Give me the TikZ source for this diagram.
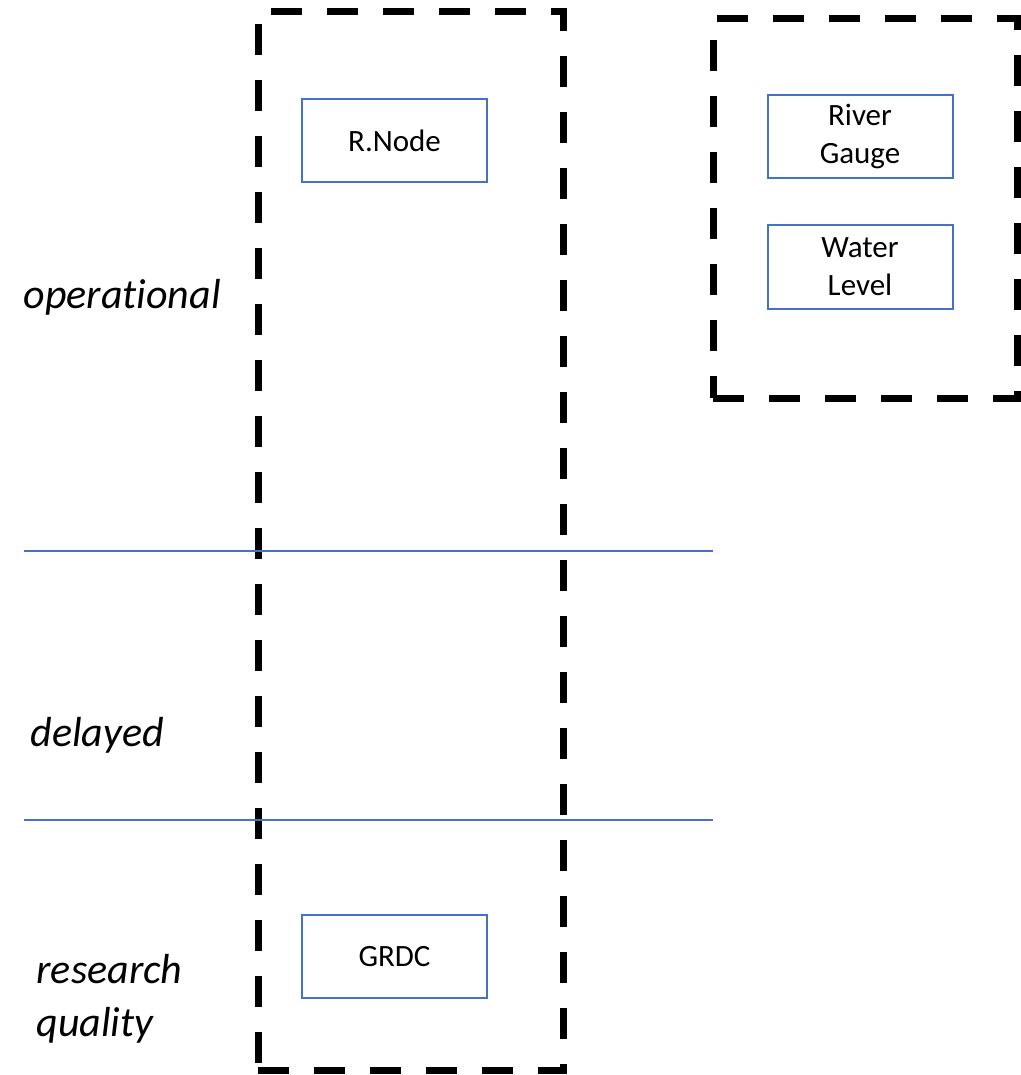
\documentclass[tikz,border=0pt]{standalone}
\usepackage{fontspec}
\setmainfont[Ligatures=NoCommon]{Carlito}
\definecolor{officeblue}{HTML}{4472C4}
\begin{document}
\begin{tikzpicture}[x=1pt,y=-1pt,
  group/.style={draw=black, line width=7pt, dash pattern=on 31pt off 25pt, rectangle, inner sep=0pt},
  item/.style={draw=officeblue, line width=2pt, rectangle, minimum width=185pt, minimum height=83pt, inner sep=0pt, font=\fontsize{31}{38}\selectfont, align=center},
  tier/.style={font=\fontsize{42}{53}\selectfont\itshape, anchor=west, align=left},
  divider/.style={draw=officeblue, line width=1.2pt}]
\useasboundingbox (0,0) rectangle (1020,1075);
\fill[white] (0,0) rectangle (1020,1075);
% dashed groups
\node[group, minimum width=305pt, minimum height=1058pt] (leftgroup) at (410.5,541) {};
\node[group, minimum width=304pt, minimum height=379pt] (rightgroup) at (865,208.5) {};
% dividers
\coordinate (d1a) at (24,551);
\coordinate (d1b) at (713,551);
\coordinate (d2a) at (24,820);
\coordinate (d2b) at (713,820);
\draw[divider] (d1a) -- (d1b);
\draw[divider] (d2a) -- (d2b);
% items
\node[item] (rnode) at (394.5,140.5) {R.Node};
\node[item] (grdc) at (394.5,956.5) {GRDC};
\node[item] (gauge) at (860,136.5) {River\\Gauge};
\node[item] (level) at (860,267) {Water\\Level};
% tier labels
\node[tier] (operational) at (20,297) {operational};
\node[tier] (delayed) at (27,735) {delayed};
\node[tier] (research) at (33,999) {research\\quality};
\end{tikzpicture}
\end{document}
